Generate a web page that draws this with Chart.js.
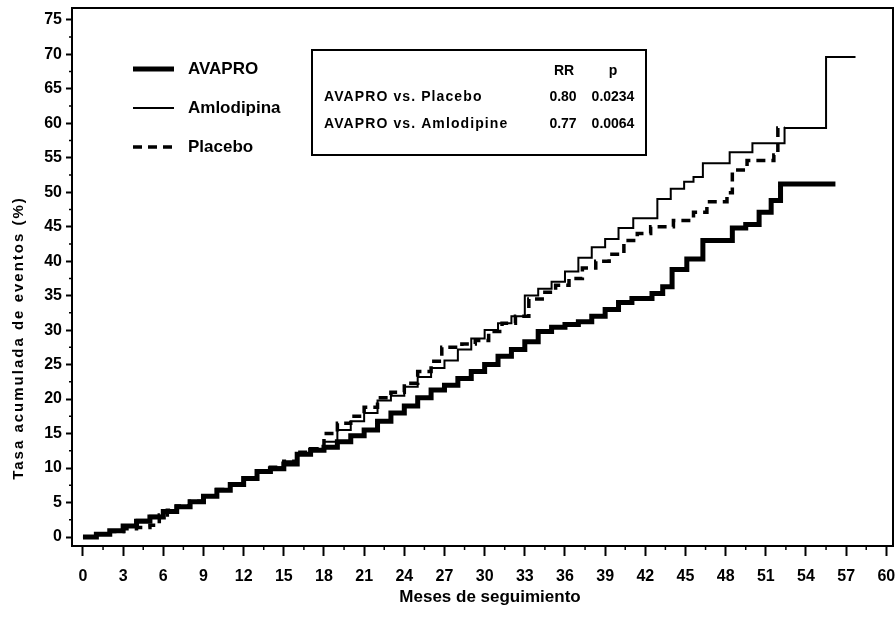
<!DOCTYPE html>
<html>
<head>
<meta charset="utf-8">
<script src="https://cdn.jsdelivr.net/npm/chart.js@4.4.1/dist/chart.umd.min.js"></script>
<style>
  html, body { margin: 0; padding: 0; background: #fff; }
  #wrap { width: 896px; height: 639px; }
</style>
</head>
<body>
<div id="wrap"><canvas id="km"></canvas></div>
<script>
// data (month of each step, cumulative rate %)
var avaproMonths = [0,1,2,3,4,5,6,7,8,9,10,11,12,13,14,15,16,17,18,19,20,21,22,23,24,25,26,27,28,29,30,31,32,33,34,35,36,37,38,39,40,41,
  42.5,43.3,44,45.1,46.3,48.5,49.5,50.5,51.4,52.1,56.2];
var avaproRate = [0,0.4,0.9,1.6,2.3,2.9,3.7,4.4,5.1,5.9,6.8,7.6,8.5,9.5,9.9,10.6,12,12.6,13,13.8,14.7,15.5,16.8,18,19,20.2,21.3,22,23,24,25,26.2,27.2,28.3,29.8,30.4,30.8,31.2,32,33,34,34.6,
  35.3,36.3,38.8,40.3,43,44.8,45.3,47.1,48.8,51.2,51.2];

var amloMonths = [0,1,2,3,4,5,6,7,8,9,10,11,12,13,14,15,16,17,18,19,20,21,22,23,24,25,26,27,28,29,30,31,32,33,34,35,36,37,38,39,40,
  41.1,42.9,43.9,44.9,45.6,46.3,48.3,50,52.4,55.5,57.7];
var amloRate = [0,0.5,1,1.7,2.5,3.1,3.8,4.5,5.2,6,6.9,7.7,8.7,9.5,10.1,11,12.2,12.7,13.8,15.5,16.8,18,19.8,20.5,21.8,23.2,24.5,25.6,27.2,28.8,30,31,32,35,36,37,38.5,40.5,42,43.2,44.8,
  46.2,49,50.5,51.5,52.2,54.2,55.8,57.1,59.3,69.6,69.6];

var placeboMonths = [0,1,2,3,4,5,5.7,6.3,7,8,9,10,11,12,13,14,15,16,17,18,19,20,21,22,23,24,25,26,26.8,28.3,29.3,30.3,31.3,32.3,33.3,34.3,35.3,36.3,37.3,38.3,39.3,
  40.4,41.4,42.4,44.1,45.6,46.6,48.1,48.5,49.6,51.6,51.9,52.4];
var placeboRate = [0,0.4,0.8,1.2,1.4,1.7,3.2,3.9,4.5,5.2,6,6.9,7.7,8.6,9.6,10.1,11,12.3,12.8,15,16.5,17.5,18.8,20.2,21,22.3,24,25.5,27.5,28,28.5,29.8,31,32,34.5,35.5,36.5,37.5,39,40,41,
  43,44,45,45.9,47.1,48.6,49.9,53.2,54.6,55.4,59.3,59.3];

var seriesNames = ['AVAPRO', 'Amlodipina', 'Placebo'];
var xTicks = [0,3,6,9,12,15,18,21,24,27,30,33,36,39,42,45,48,51,54,57,60];
var yTicks = [0,5,10,15,20,25,30,35,40,45,50,55,60,65,70,75];
var statsHead = ['RR', 'p'];
var statsRows = [
  ['AVAPRO vs. Placebo', '0.80', '0.0234'],
  ['AVAPRO vs. Amlodipine', '0.77', '0.0064']
];

var FONT = "'Liberation Sans', Arial, sans-serif";

function pairs(xs, ys) {
  return xs.map(function(x, i) { return { x: x, y: ys[i] }; });
}

// legend, stats box, frame, minor ticks and axis titles
var extras = {
  id: 'extras',
  afterDraw: function(chart) {
    var ctx = chart.ctx;
    var a = chart.chartArea;
    var xs = chart.scales.x, ys = chart.scales.y;
    ctx.save();
    ctx.strokeStyle = '#000';
    ctx.fillStyle = '#000';

    ctx.lineWidth = 2;
    ctx.strokeRect(a.left, a.top, a.right - a.left, a.bottom - a.top);

    ctx.lineWidth = 1.5;
    ctx.beginPath();
    for (var m = 1.5; m < 60; m += 3) {
      var px = xs.getPixelForValue(m);
      ctx.moveTo(px, a.bottom);
      ctx.lineTo(px, a.bottom + 4);
    }
    for (var v = 2.5; v < 76; v += 5) {
      var py = ys.getPixelForValue(v);
      ctx.moveTo(a.left, py);
      ctx.lineTo(a.left - 3, py);
    }
    ctx.stroke();

    // legend
    var legY = [69, 108, 147];
    chart.data.datasets.forEach(function(ds, i) {
      ctx.beginPath();
      ctx.lineWidth = ds.borderWidth;
      ctx.setLineDash(ds.borderDash || []);
      ctx.moveTo(133, legY[i]);
      ctx.lineTo(174, legY[i]);
      ctx.stroke();
      ctx.setLineDash([]);
      ctx.font = 'bold 17px ' + FONT;
      ctx.textAlign = 'left';
      ctx.textBaseline = 'middle';
      ctx.fillText(ds.label, 188, legY[i]);
    });

    // RR / p box
    ctx.lineWidth = 2;
    ctx.strokeRect(312, 50, 334, 105);
    ctx.font = 'bold 14px ' + FONT;
    ctx.textBaseline = 'middle';
    ctx.textAlign = 'center';
    ctx.fillText(statsHead[0], 564, 71);
    ctx.fillText(statsHead[1], 613, 71);
    var rowY = [97, 124];
    statsRows.forEach(function(r, i) {
      ctx.textAlign = 'left';
      ctx.letterSpacing = '1.1px';
      ctx.fillText(r[0], 324, rowY[i]);
      ctx.letterSpacing = '0px';
      ctx.textAlign = 'center';
      ctx.fillText(r[1], 563, rowY[i]);
      ctx.fillText(r[2], 613, rowY[i]);
    });

    // axis titles
    ctx.font = 'bold 17px ' + FONT;
    ctx.textAlign = 'center';
    ctx.fillText('Meses de seguimiento', 490, 597);

    ctx.translate(19, 338);
    ctx.rotate(-Math.PI / 2);
    ctx.font = 'bold 15px ' + FONT;
    ctx.letterSpacing = '2px';
    ctx.fillText('Tasa acumulada de eventos (%)', 0, 0);
    ctx.restore();
  }
};

var tickFont = { family: FONT, size: 16, weight: 'bold' };

var config = {
  type: 'scatter',
  data: {
    datasets: [{
      label: seriesNames[0],
      data: pairs(avaproMonths, avaproRate),
      borderColor: '#000',
      borderWidth: 5,
      showLine: true,
      stepped: true,
      pointRadius: 0
    }, {
      label: seriesNames[1],
      data: pairs(amloMonths, amloRate),
      borderColor: '#000',
      borderWidth: 2,
      showLine: true,
      stepped: true,
      pointRadius: 0
    }, {
      label: seriesNames[2],
      data: pairs(placeboMonths, placeboRate),
      borderColor: '#000',
      borderWidth: 3.5,
      borderDash: [9, 6],
      showLine: true,
      stepped: true,
      pointRadius: 0
    }]
  },
  options: {
    responsive: true,
    maintainAspectRatio: false,
    animation: false,
    layout: { padding: { top: 8, right: 3, left: 0, bottom: 0 } },
    plugins: {
      legend: { display: false },
      tooltip: { enabled: false }
    },
    scales: {
      x: {
        type: 'linear',
        min: -0.82,
        max: 60.5,
        grid: { drawOnChartArea: false, tickLength: 10, tickColor: '#000', tickWidth: 2 },
        border: { color: '#000', width: 2 },
        ticks: { color: '#000', font: tickFont, padding: 11, maxRotation: 0, autoSkip: false },
        afterBuildTicks: function(scale) {
          scale.ticks = xTicks.map(function(v) { return { value: v }; });
        },
        afterFit: function(scale) {
          scale.height = 93;
          scale.paddingLeft = 0;
          scale.paddingRight = 0;
        }
      },
      y: {
        type: 'linear',
        min: -1.3,
        max: 76.7,
        grid: { drawOnChartArea: false, tickLength: 6, tickColor: '#000', tickWidth: 2 },
        border: { color: '#000', width: 2 },
        ticks: { color: '#000', font: tickFont, padding: 4, autoSkip: false },
        afterBuildTicks: function(scale) {
          scale.ticks = yTicks.map(function(v) { return { value: v }; });
        },
        afterFit: function(scale) {
          scale.width = 72;
          scale.paddingTop = 0;
          scale.paddingBottom = 0;
        }
      }
    }
  },
  plugins: [extras]
};

window.onload = function() {
  var ctx = document.getElementById('km').getContext('2d');
  window.kmChart = new Chart(ctx, config);
};
</script>
</body>
</html>
